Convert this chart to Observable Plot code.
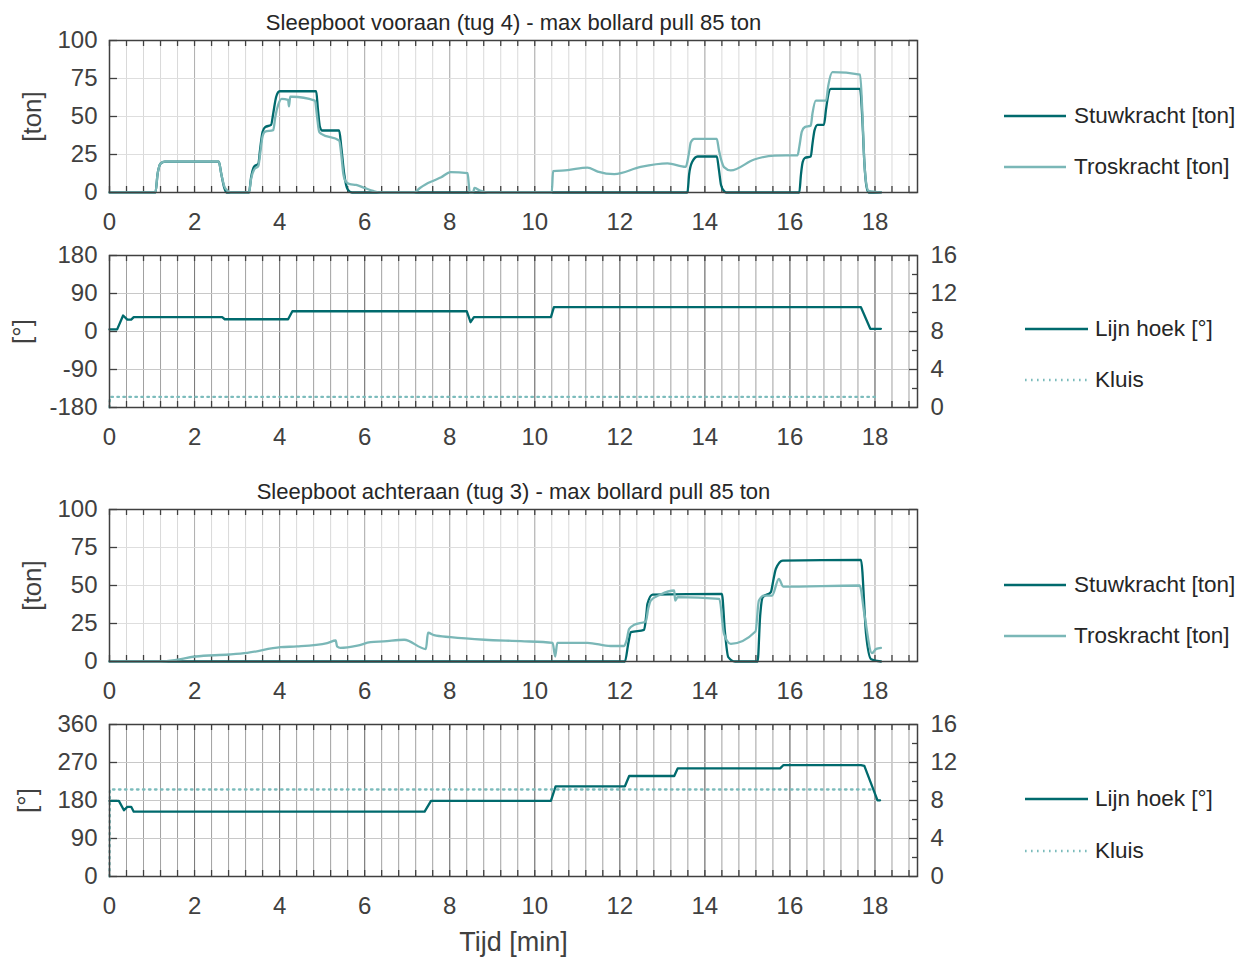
<!DOCTYPE html>
<html><head><meta charset="utf-8">
<script src="https://cdn.jsdelivr.net/npm/d3@7"></script>
<script src="https://cdn.jsdelivr.net/npm/@observablehq/plot@0.6"></script>
<style>
body{margin:0;background:#fff;font-family:"Liberation Sans",Arial,Helvetica,sans-serif;}
#chart{position:relative;width:1240px;height:958px;overflow:hidden;background:#fff;}
.panel{position:absolute;left:0;}
.legend{position:absolute;display:flex;align-items:center;font-size:22.5px;color:#262626;transform:translateY(-50%);white-space:nowrap;}
.legend svg{display:block;margin-right:8px;}
</style></head><body><div id="chart"></div>
<script>
// ---------- data ----------
const titles = ["Sleepboot vooraan (tug 4) - max bollard pull 85 ton", "Sleepboot achteraan (tug 3) - max bollard pull 85 ton"];
const xTicks = [0, 2, 4, 6, 8, 10, 12, 14, 16, 18];
const forceTicks = [0, 25, 50, 75, 100];
const angleTicksTug4 = [-180, -90, 0, 90, 180];
const angleTicksTug3 = [0, 90, 180, 270, 360];
const rightTickLabels = [0, 4, 8, 12, 16];
const seriesNames = ["Stuwkracht [ton]", "Troskracht [ton]", "Lijn hoek [°]", "Kluis"];

// [time (min), value]
const tug4Stuw = [[0,0],[1.08,0],[1.13,12],[1.2,19],[1.3,20.3],[2.57,20.3],[2.63,12],[2.7,3],[2.75,0],[3.28,0],[3.33,10],[3.4,17],[3.5,19],[3.54,28],[3.6,40],[3.66,43],[3.8,44.5],[3.85,52],[3.92,63],[4.0,66.6],[4.86,66.6],[4.9,55],[4.95,43],[5.0,40.8],[5.4,40.8],[5.45,30],[5.52,12],[5.6,2],[5.7,0],[13.59,0],[13.63,12],[13.7,20],[13.83,23.7],[14.28,23.7],[14.33,15],[14.38,5],[14.45,1],[14.5,0],[16.22,0],[16.26,12],[16.3,20],[16.35,22.7],[16.49,23.7],[16.53,32],[16.58,41],[16.65,44.5],[16.8,44.5],[16.85,55],[16.9,64],[16.96,68.2],[17.65,68.2],[17.7,50],[17.75,20],[17.8,4],[17.85,0],[18.14,0]];
const tug4Tros = [[0,0],[1.08,0],[1.13,12],[1.2,19],[1.3,20.3],[2.57,20.3],[2.63,12],[2.7,4],[2.78,1],[2.85,0],[3.28,0],[3.33,9],[3.4,15],[3.5,17.5],[3.54,25],[3.6,37],[3.66,40],[3.85,41],[3.9,50],[3.97,58],[4.05,61.6],[4.2,61],[4.22,56.6],[4.25,63],[4.3,63],[4.83,60.5],[4.88,50],[4.93,40],[4.98,38.6],[5.4,34.2],[5.45,25],[5.5,12],[5.56,7],[5.65,5.5],[5.8,5],[6.0,3],[6.2,1],[6.38,0],[7.16,0],[7.3,3],[7.43,5.3],[7.63,7.9],[7.8,10],[8.02,13.4],[8.42,12.7],[8.45,5],[8.47,0],[8.55,0],[8.58,3],[8.7,1.5],[8.9,0],[10.4,0],[10.43,14],[10.77,14.7],[11.24,16.4],[11.48,13.8],[11.87,12.1],[12.49,16.8],[13.12,19.1],[13.55,16.8],[13.62,25],[13.67,33],[13.75,35.3],[14.28,35.3],[14.33,28],[14.4,20],[14.45,16.7],[14.61,14.5],[15.16,21.7],[15.63,24.3],[16.18,24.5],[16.22,30],[16.28,40],[16.35,43],[16.49,44],[16.53,52],[16.61,60.5],[16.85,60.5],[16.9,70],[17.0,79.2],[17.65,77.6],[17.7,55],[17.75,20],[17.8,5],[17.85,1],[18.14,0]];
const tug4Hoek = [[0,5],[0.18,5],[0.32,38],[0.42,28],[0.51,28],[0.57,34],[2.65,34],[2.71,29],[4.2,29],[4.3,48],[8.4,48],[8.49,22],[8.57,34],[10.38,34],[10.45,57.6],[17.67,57.6],[17.89,6.4],[18.14,6.4]];
const tug4Kluis = [[0,-180],[0.01,-155],[18.06,-155]];

const tug3Stuw = [[0,0],[12.12,0],[12.2,12],[12.26,19.3],[12.57,20.8],[12.62,30],[12.65,38],[12.77,44],[14.4,44.5],[14.47,20],[14.55,2.9],[14.71,0],[15.24,0],[15.3,30],[15.36,42.3],[15.55,45.6],[15.62,55],[15.67,61],[15.83,66.4],[17.67,66.9],[17.79,18.2],[17.91,1.5],[18.14,0]];
const tug3Tros = [[0,0],[1.2,0],[1.6,1.2],[2.02,3.3],[2.81,4.6],[3.24,5.7],[4.02,9.4],[4.41,9.9],[5.12,12.1],[5.32,13.8],[5.35,10],[5.43,9.0],[5.83,10.5],[6.14,12.7],[6.45,13.2],[6.93,14.3],[7.44,8.2],[7.49,18.9],[7.63,17.3],[8.02,16.0],[8.82,14.3],[9.67,13.4],[10.42,12.3],[10.48,3.3],[10.53,12.3],[11.24,12.3],[11.78,10.2],[12.1,10.2],[12.16,14],[12.22,21.5],[12.34,24.1],[12.61,26.3],[12.67,35],[12.73,40.1],[12.96,44.1],[13.28,46.7],[13.3,40.1],[13.36,42.3],[14.34,41.2],[14.45,18.2],[14.61,11.6],[15.19,19.7],[15.27,40.1],[15.39,43.4],[15.58,43.4],[15.74,54.4],[15.84,49.3],[17.64,50],[17.75,31.4],[17.93,5.5],[18.03,8.3],[18.14,9.0]];
const tug3Hoek = [[0,179],[0.22,179],[0.34,157],[0.42,165],[0.51,165],[0.57,153.5],[7.41,153.5],[7.56,179],[10.38,179],[10.49,213.6],[12.12,213.6],[12.22,238],[13.28,238],[13.36,256],[15.77,256],[15.85,264],[17.67,264],[17.75,262],[18.06,180.5],[18.12,180.5]];
const tug3Kluis = [[0,0],[0.01,206],[17.9,206]];

// ---------- styling ----------
const DARK = "#006a6d", LIGHT = "#7ab7b7", KLUIS = "#7cbcbc";
const AXIS = "#404040";
const FONT = '"Liberation Sans", Arial, Helvetica, sans-serif';
const minorX = d3.range(0, 48).map(i => +(i * 0.4).toFixed(1));
const toRows = arr => arr.map(([t, v]) => ({t, v}));

const ML = 109, MR = 83, W = 1000, MT = 40, FH = 152, INNER = W - ML - MR;

function makePanel(cfg) {
  const MB = cfg.marginBottom || 45;
  const [ymin, ymax] = cfg.yDomain;
  const marks = [
    Plot.ruleX(minorX, {stroke: cfg.minorGrid, strokeWidth: 1}),
    Plot.ruleX(xTicks, {stroke: cfg.majorGrid, strokeWidth: 1}),
    Plot.ruleY(cfg.yTicks.slice(1, -1), {stroke: cfg.hGrid, strokeWidth: 1}),
    Plot.ruleX(minorX, {stroke: AXIS, strokeWidth: 1.3, insetTop: FH - 6}),
    Plot.ruleX(minorX, {stroke: AXIS, strokeWidth: 1.3, insetBottom: FH - 6}),
    Plot.ruleY(cfg.yTicks, {stroke: AXIS, strokeWidth: 1.3, insetRight: INNER - 8}),
    Plot.ruleY(cfg.yTicks, {stroke: AXIS, strokeWidth: 1.3, insetLeft: INNER - 8})
  ];
  if (cfg.rightMinor) marks.push(Plot.ruleY(cfg.rightMinor, {stroke: AXIS, strokeWidth: 1.3, insetLeft: INNER - 5}));
  cfg.series.forEach(s => marks.push(Plot.line(toRows(s.data), {x: "t", y: "v", stroke: s.color, strokeWidth: 2.3, strokeDasharray: s.dash, strokeLinejoin: "round", curve: s.curve || "linear"})));
  marks.push(Plot.frame({stroke: AXIS, strokeWidth: 1.5}));
  marks.push(Plot.axisX({ticks: xTicks, tickFormat: d => String(d), tickSize: 0, tickPadding: 20, label: null, fontSize: 24, fill: AXIS}));
  marks.push(Plot.axisY({anchor: "left", ticks: cfg.yTicks, tickFormat: d => String(d), tickSize: 0, tickPadding: 12, label: null, fontSize: 24, fill: AXIS}));
  if (cfg.rightLabels) {
    marks.push(Plot.axisY({anchor: "right", ticks: cfg.yTicks, tickFormat: d => String(cfg.rightLabels[cfg.yTicks.indexOf(d)]), tickSize: 0, tickPadding: 13, label: null, fontSize: 24, fill: AXIS}));
  }
  marks.push(Plot.text([cfg.yLabel], {frameAnchor: "left", textAnchor: "middle", lineAnchor: "middle", rotate: -90, dx: cfg.yLabelDx, fontSize: 26, fill: AXIS}));
  if (cfg.title) marks.push(Plot.text([cfg.title], {frameAnchor: "top", textAnchor: "middle", lineAnchor: "middle", dy: -18, fontSize: 22, fill: "#262626"}));
  if (cfg.xLabel) marks.push(Plot.text([cfg.xLabel], {frameAnchor: "bottom", textAnchor: "middle", lineAnchor: "middle", dy: 66, fontSize: 27, fill: AXIS}));
  const svg = Plot.plot({
    width: W, height: MT + FH + MB,
    marginLeft: ML, marginRight: MR, marginTop: MT, marginBottom: MB,
    x: {domain: [0, 19]},
    y: {domain: [ymin, ymax]},
    style: {background: "transparent", overflow: "visible", fontFamily: FONT, fontSize: "24px", color: AXIS},
    marks
  });
  svg.classList.add("panel");
  svg.style.top = (cfg.frameTop - MT) + "px";
  document.getElementById("chart").appendChild(svg);
}

function legendRow(y, x1, x2, textX, label, color, dash) {
  const d = document.createElement("div");
  d.className = "legend";
  d.style.left = x1 + "px";
  d.style.top = y + "px";
  const len = x2 - x1;
  d.innerHTML = `<svg width="${len}" height="6"><line x1="0" x2="${len}" y1="3" y2="3" stroke="${color}" stroke-width="2.3" ${dash ? `stroke-dasharray="${dash}"` : ""}/></svg><span style="margin-left:${textX - x2 - 8}px">${label}</span>`;
  document.getElementById("chart").appendChild(d);
}

const angleMinor4 = [-135, -45, 45, 135];
const angleMinor3 = [45, 135, 225, 315];

makePanel({frameTop: 40, yDomain: [0, 100], yTicks: forceTicks, yLabel: "[ton]", yLabelDx: -77, title: titles[0],
  minorGrid: "#d9d9d9", majorGrid: "#b0b0b0", hGrid: "#dedede",
  series: [{data: tug4Stuw, color: DARK, curve: "monotone-x"}, {data: tug4Tros, color: LIGHT, curve: "monotone-x"}]});
makePanel({frameTop: 255, yDomain: [-180, 180], yTicks: angleTicksTug4, rightLabels: rightTickLabels, rightMinor: angleMinor4, yLabel: "[°]", yLabelDx: -87,
  minorGrid: "#a0a0a0", majorGrid: "#7a7a7a", hGrid: "#c8c8c8",
  series: [{data: tug4Hoek, color: DARK}, {data: tug4Kluis, color: KLUIS, dash: "1.6,4.4"}]});
makePanel({frameTop: 509, yDomain: [0, 100], yTicks: forceTicks, yLabel: "[ton]", yLabelDx: -77, title: titles[1],
  minorGrid: "#d9d9d9", majorGrid: "#b0b0b0", hGrid: "#dedede",
  series: [{data: tug3Stuw, color: DARK, curve: "monotone-x"}, {data: tug3Tros, color: LIGHT, curve: "monotone-x"}]});
makePanel({frameTop: 724, yDomain: [0, 360], yTicks: angleTicksTug3, rightLabels: rightTickLabels, rightMinor: angleMinor3, yLabel: "[°]", yLabelDx: -82,
  minorGrid: "#a0a0a0", majorGrid: "#7a7a7a", hGrid: "#c8c8c8", xLabel: "Tijd [min]", marginBottom: 90,
  series: [{data: tug3Hoek, color: DARK}, {data: tug3Kluis, color: KLUIS, dash: "1.6,4.4"}]});

legendRow(116, 1004, 1066, 1074, seriesNames[0], DARK);
legendRow(167, 1004, 1066, 1074, seriesNames[1], LIGHT);
legendRow(329, 1025, 1088, 1095, seriesNames[2], DARK);
legendRow(380, 1025, 1088, 1095, seriesNames[3], KLUIS, "1.6,4.4");
legendRow(585, 1004, 1066, 1074, seriesNames[0], DARK);
legendRow(636, 1004, 1066, 1074, seriesNames[1], LIGHT);
legendRow(799, 1025, 1088, 1095, seriesNames[2], DARK);
legendRow(851, 1025, 1088, 1095, seriesNames[3], KLUIS, "1.6,4.4");
</script></body></html>
